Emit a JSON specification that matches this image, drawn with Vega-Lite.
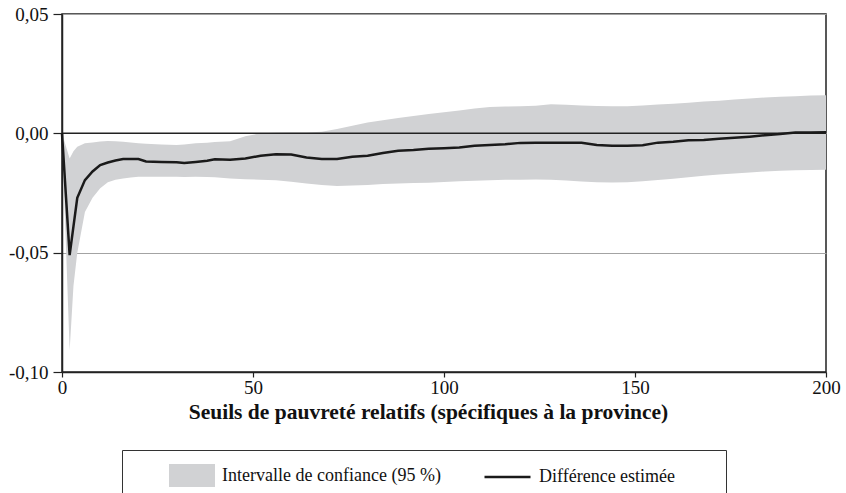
{
  "$schema": "https://vega.github.io/schema/vega-lite/v6.json",
  "width": 764,
  "height": 358,
  "autosize": {"type": "none"},
  "padding": {"left": 62, "top": 14, "right": 20, "bottom": 121},
  "background": "white",
  "config": {
    "font": "Liberation Serif",
    "view": {"stroke": "#222", "strokeWidth": 1.5},
    "axis": {
      "labelFont": "Liberation Serif",
      "labelColor": "#111",
      "titleFont": "Liberation Serif",
      "titleColor": "#111",
      "domainColor": "#222",
      "domainWidth": 1.5,
      "tickColor": "#222",
      "tickWidth": 1.2
    },
    "legend": {
      "labelFont": "Liberation Serif",
      "labelFontSize": 18,
      "labelColor": "#111",
      "labelLimit": 400
    }
  },
  "datasets": {
    "series": [
      {"x": 0, "lo": 0, "hi": 0, "est": 0},
      {"x": 2, "lo": -0.091, "hi": -0.0105, "est": -0.051},
      {"x": 3, "lo": -0.064, "hi": -0.0075, "est": -0.039},
      {"x": 4, "lo": -0.05, "hi": -0.0056, "est": -0.027},
      {"x": 6, "lo": -0.033, "hi": -0.0042, "est": -0.0196},
      {"x": 8, "lo": -0.027, "hi": -0.0038, "est": -0.016},
      {"x": 10, "lo": -0.023, "hi": -0.0034, "est": -0.0133},
      {"x": 12, "lo": -0.0205, "hi": -0.0032, "est": -0.0122},
      {"x": 14, "lo": -0.0195, "hi": -0.0033, "est": -0.0114},
      {"x": 16, "lo": -0.0189, "hi": -0.0035, "est": -0.0108},
      {"x": 18, "lo": -0.0185, "hi": -0.0038, "est": -0.0108},
      {"x": 20, "lo": -0.0182, "hi": -0.0042, "est": -0.0108},
      {"x": 22, "lo": -0.0182, "hi": -0.0044, "est": -0.0118},
      {"x": 26, "lo": -0.0182, "hi": -0.0047, "est": -0.012},
      {"x": 30, "lo": -0.0182, "hi": -0.0049, "est": -0.0121},
      {"x": 32, "lo": -0.0183, "hi": -0.0047, "est": -0.0124},
      {"x": 35, "lo": -0.0182, "hi": -0.0042, "est": -0.012},
      {"x": 38, "lo": -0.0183, "hi": -0.0039, "est": -0.0115},
      {"x": 40, "lo": -0.0184, "hi": -0.0036, "est": -0.0109},
      {"x": 44, "lo": -0.0189, "hi": -0.0033, "est": -0.0111},
      {"x": 48, "lo": -0.0192, "hi": -0.0012, "est": -0.0105},
      {"x": 52, "lo": -0.0194, "hi": 0.0, "est": -0.0094},
      {"x": 56, "lo": -0.0197, "hi": 0.0002, "est": -0.0088},
      {"x": 60, "lo": -0.0203, "hi": 0.0003, "est": -0.0089},
      {"x": 64, "lo": -0.021, "hi": 0.0004, "est": -0.0101},
      {"x": 68, "lo": -0.0217, "hi": 0.0007, "est": -0.0108},
      {"x": 72, "lo": -0.0221, "hi": 0.0018, "est": -0.0108},
      {"x": 76, "lo": -0.0219, "hi": 0.0032, "est": -0.0098},
      {"x": 80, "lo": -0.0216, "hi": 0.0045, "est": -0.0094},
      {"x": 84, "lo": -0.0212, "hi": 0.0055, "est": -0.0082},
      {"x": 88, "lo": -0.021, "hi": 0.0064, "est": -0.0073},
      {"x": 92, "lo": -0.0208, "hi": 0.0073, "est": -0.007},
      {"x": 96, "lo": -0.0207, "hi": 0.0081, "est": -0.0065},
      {"x": 100, "lo": -0.0204, "hi": 0.0088, "est": -0.0062},
      {"x": 104, "lo": -0.0201, "hi": 0.0096, "est": -0.0059},
      {"x": 108, "lo": -0.0199, "hi": 0.0104, "est": -0.0052},
      {"x": 112, "lo": -0.0197, "hi": 0.011, "est": -0.0049},
      {"x": 116, "lo": -0.0195, "hi": 0.0112, "est": -0.0046},
      {"x": 120, "lo": -0.0194, "hi": 0.0113, "est": -0.004},
      {"x": 124, "lo": -0.0193, "hi": 0.0116, "est": -0.0039},
      {"x": 128, "lo": -0.0195, "hi": 0.0122, "est": -0.0039},
      {"x": 132, "lo": -0.0198, "hi": 0.012, "est": -0.0039},
      {"x": 136, "lo": -0.0202, "hi": 0.0117, "est": -0.0039},
      {"x": 140, "lo": -0.0205, "hi": 0.0115, "est": -0.0049},
      {"x": 144, "lo": -0.0206, "hi": 0.0114, "est": -0.0052},
      {"x": 148, "lo": -0.0205, "hi": 0.0114, "est": -0.0052},
      {"x": 152, "lo": -0.0201, "hi": 0.0117, "est": -0.005},
      {"x": 156, "lo": -0.0196, "hi": 0.0121, "est": -0.0039},
      {"x": 160, "lo": -0.019, "hi": 0.0124, "est": -0.0035},
      {"x": 164, "lo": -0.0184, "hi": 0.0128, "est": -0.0029},
      {"x": 168, "lo": -0.0178, "hi": 0.0133, "est": -0.0028},
      {"x": 172, "lo": -0.0173, "hi": 0.0137, "est": -0.0023},
      {"x": 176, "lo": -0.0168, "hi": 0.0142, "est": -0.0019},
      {"x": 180, "lo": -0.0164, "hi": 0.0146, "est": -0.0014},
      {"x": 184, "lo": -0.016, "hi": 0.015, "est": -0.0008},
      {"x": 188, "lo": -0.0157, "hi": 0.0153, "est": -0.0003},
      {"x": 192, "lo": -0.0155, "hi": 0.0155, "est": 0.0003},
      {"x": 196, "lo": -0.0154, "hi": 0.0158, "est": 0.0003},
      {"x": 200, "lo": -0.0153, "hi": 0.016, "est": 0.0005}
    ],
    "zero": [{"level": 0}]
  },
  "layer": [
    {
      "data": {"name": "series"},
      "mark": {"type": "area", "opacity": 1, "fillOpacity": 1},
      "encoding": {
        "x": {
          "field": "x", "type": "quantitative",
          "scale": {"domain": [0, 200], "nice": false, "zero": false},
          "axis": {
            "values": [0, 50, 100, 150, 200],
            "grid": false,
            "tickSize": 5,
            "labelFontSize": 19,
            "labelPadding": 1,
            "labelFlush": false,
            "title": "Seuils de pauvreté relatifs (spécifiques à la province)",
            "titleFontSize": 21.5,
            "titleFontWeight": "bold",
            "titlePadding": 4,
            "titleX": 366,
            "titleAlign": "center"
          }
        },
        "y": {
          "field": "lo", "type": "quantitative",
          "scale": {"domain": [-0.1, 0.05], "nice": false, "zero": false},
          "axis": {
            "values": [-0.1, -0.05, 0, 0.05],
            "title": null,
            "grid": true,
            "gridColor": "#a3a3a3",
            "gridWidth": 1.2,
            "tickSize": 9,
            "labelPadding": 5,
            "labelFontSize": 19,
            "labelExpr": "(datum.value < -0.0001 ? '-' : '') + replace(format(abs(datum.value), '.2f'), '.', ',')"
          }
        },
        "y2": {"field": "hi"},
        "fill": {
          "datum": "Intervalle de confiance (95 %)",
          "type": "nominal",
          "scale": {"range": ["#d1d2d4"]},
          "legend": {
            "orient": "none",
            "legendX": 60,
            "legendY": 436,
            "direction": "horizontal",
            "title": null,
            "padding": 14,
            "symbolType": "M-2,-1H2V1H-2Z",
            "symbolSize": 529,
            "symbolOffset": 44.5,
            "symbolStrokeWidth": 0,
            "labelOffset": 18.5
          }
        }
      }
    },
    {
      "data": {"name": "zero"},
      "mark": {"type": "rule", "color": "#222", "strokeWidth": 1.5},
      "encoding": {
        "y": {"field": "level", "type": "quantitative"}
      }
    },
    {
      "data": {"name": "series"},
      "mark": {"type": "line", "strokeWidth": 2.5},
      "encoding": {
        "x": {"field": "x", "type": "quantitative"},
        "y": {"field": "est", "type": "quantitative"},
        "stroke": {
          "datum": "Différence estimée",
          "type": "nominal",
          "scale": {"range": ["#1a1a1a"]},
          "legend": {
            "orient": "none",
            "legendX": 60,
            "legendY": 436,
            "direction": "horizontal",
            "title": "\u00a0",
            "titleOrient": "right",
            "titleFontSize": 8,
            "titlePadding": 37,
            "padding": 14,
            "strokeColor": "#333",
            "symbolType": "M-2,0H2",
            "symbolFillColor": "transparent",
            "symbolSize": 529,
            "symbolOffset": 358.5,
            "symbolStrokeWidth": 2.5,
            "labelOffset": 18.5
          }
        }
      }
    }
  ]
}
